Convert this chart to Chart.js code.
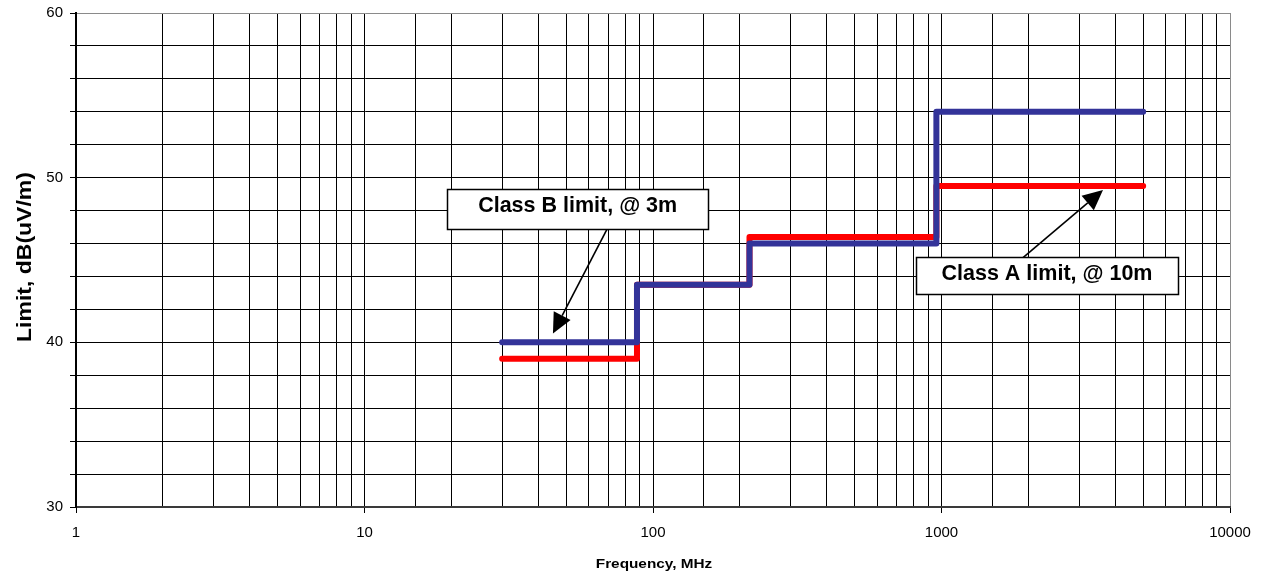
<!DOCTYPE html>
<html>
<head>
<meta charset="utf-8">
<script src="https://cdn.jsdelivr.net/npm/chart.js@4.4.1/dist/chart.umd.min.js"></script>
<style>
  html, body { margin: 0; padding: 0; background: #fff; }
  canvas { display: block; }
</style>
</head>
<body>
<canvas id="c" width="1269" height="577"></canvas>
<script>
// Band edges of the radiated-emission limits, MHz
const freqMHz = [30, 88, 216, 960, 5000];
// Class B limit, measured at 3 m, dB(uV/m)
const classB3m = [40, 43.5, 46, 54, 54];
// Class A limit, measured at 10 m, dB(uV/m)
const classA10m = [39, 43.5, 46.4, 49.5, 49.5];
// Labelled ticks
const xDecades = [1, 10, 100, 1000, 10000];
const yLabels = [30, 40, 50, 60];

const FONT = '"Liberation Sans", Arial, Helvetica, sans-serif';

// Call-out boxes with arrows, anchored in data space (MHz, dB)
const callouts = [
  { text: 'Class B limit, @ 3m', center: [54.8, 48.09], w: 261, h: 40,
    tail: [69.3, 46.88], tip: [45.0, 40.54] },
  { text: 'Class A limit, @ 10m', center: [2321, 44.03], w: 262, h: 37,
    tail: [1917, 45.15], tip: [3629, 49.25] }
];

function isDecade(v) {
  return xDecades.some(d => Math.abs(d - v) < 1e-6 * d);
}

function drawArrow(ctx, x0, y0, x1, y1) {
  const a = Math.atan2(y1 - y0, x1 - x0);
  const L = 20, W = 9.5;
  const bx = x1 - L * Math.cos(a), by = y1 - L * Math.sin(a);
  ctx.beginPath();
  ctx.moveTo(x0, y0);
  ctx.lineTo(bx, by);
  ctx.lineWidth = 1.6;
  ctx.strokeStyle = '#000';
  ctx.stroke();
  ctx.beginPath();
  ctx.moveTo(x1, y1);
  ctx.lineTo(bx + W * Math.sin(a), by - W * Math.cos(a));
  ctx.lineTo(bx - W * Math.sin(a), by + W * Math.cos(a));
  ctx.closePath();
  ctx.fillStyle = '#000';
  ctx.fill();
}

// Stretched text helper for the axis titles
function stretchedText(ctx, text, x, y, rot, sx, font) {
  ctx.save();
  ctx.translate(x, y);
  ctx.rotate(rot);
  ctx.scale(sx, 1);
  ctx.font = font;
  ctx.fillStyle = '#000';
  ctx.textAlign = 'center';
  ctx.textBaseline = 'alphabetic';
  ctx.fillText(text, 0, 0);
  ctx.restore();
}

const decorations = {
  id: 'decorations',
  afterDatasetsDraw(chart) {
    const { ctx, scales: { x, y } } = chart;
    ctx.save();
    callouts.forEach(c => {
      const cx = x.getPixelForValue(c.center[0]);
      const cy = y.getPixelForValue(c.center[1]);
      drawArrow(ctx,
        x.getPixelForValue(c.tail[0]), y.getPixelForValue(c.tail[1]),
        x.getPixelForValue(c.tip[0]), y.getPixelForValue(c.tip[1]));
      const left = Math.round(cx - c.w / 2) + 0.5;
      const top = Math.round(cy - c.h / 2) + 0.5;
      ctx.fillStyle = '#fff';
      ctx.fillRect(left, top, c.w, c.h);
      ctx.lineWidth = 1.5;
      ctx.strokeStyle = '#000';
      ctx.strokeRect(left, top, c.w, c.h);
      ctx.fillStyle = '#000';
      ctx.font = 'bold 21.5px ' + FONT;
      ctx.textAlign = 'center';
      ctx.textBaseline = 'alphabetic';
      ctx.fillText(c.text, cx, top + 22);
    });
    ctx.restore();
  },
  afterDraw(chart) {
    const { ctx, chartArea } = chart;
    const midY = (chartArea.top + chartArea.bottom) / 2;
    const midX = (chartArea.left + chartArea.right) / 2;
    stretchedText(ctx, 'Limit, dB(uV/m)', 31, midY - 3, -Math.PI / 2, 1.15, 'bold 20px ' + FONT);
    stretchedText(ctx, 'Frequency, MHz', midX + 1, 568, 0, 1.18, 'bold 13px ' + FONT);
  }
};

new Chart(document.getElementById('c'), {
  type: 'line',
  data: {
    datasets: [
      {
        label: 'Class B limit, @ 3m',
        data: freqMHz.map((f, i) => ({ x: f, y: classB3m[i] })),
        borderColor: '#333399',
        borderWidth: 6,
        stepped: 'before',
        pointRadius: 0,
        borderCapStyle: 'round',
        borderJoinStyle: 'round',
        fill: false
      },
      {
        label: 'Class A limit, @ 10m',
        data: freqMHz.map((f, i) => ({ x: f, y: classA10m[i] })),
        borderColor: '#ff0000',
        borderWidth: 6,
        stepped: 'before',
        pointRadius: 0,
        borderCapStyle: 'round',
        borderJoinStyle: 'round',
        fill: false
      }
    ]
  },
  options: {
    responsive: false,
    animation: false,
    devicePixelRatio: 1,
    layout: { padding: { top: 13, right: 39, left: 0, bottom: 0 } },
    plugins: {
      legend: { display: false },
      tooltip: { enabled: false },
      title: { display: false }
    },
    scales: {
      x: {
        type: 'logarithmic',
        min: 1,
        max: 10000,
        afterFit: s => { s.height = 70; s.paddingLeft = 0; s.paddingRight = 0; },
        border: { display: true, color: '#3a3a3a', width: 2 },
        grid: {
          color: c => (c.tick && c.tick.value >= 10000 ? '#8a8a8a' : '#000'),
          lineWidth: 1,
          tickLength: 6,
          tickColor: c => (c.tick && isDecade(c.tick.value) ? '#000' : 'rgba(0,0,0,0)')
        },
        ticks: {
          autoSkip: false,
          maxRotation: 0,
          padding: 11,
          color: '#000',
          font: { family: FONT, size: 15 },
          callback: v => (isDecade(v) ? String(Math.round(v)) : '')
        }
      },
      y: {
        type: 'linear',
        min: 30,
        max: 60,
        afterFit: s => { s.width = 76; s.paddingTop = 0; s.paddingBottom = 0; },
        border: { display: true, color: '#000', width: 2 },
        grid: {
          color: c => (c.tick && c.tick.value >= 60 ? '#8a8a8a' : '#000'),
          lineWidth: 1,
          tickLength: 6,
          tickColor: '#000'
        },
        ticks: {
          stepSize: 2,
          padding: 7,
          color: '#000',
          font: { family: FONT, size: 15 },
          callback: v => (yLabels.includes(v) ? String(v) : '')
        }
      }
    }
  },
  plugins: [decorations]
});
</script>
</body>
</html>
